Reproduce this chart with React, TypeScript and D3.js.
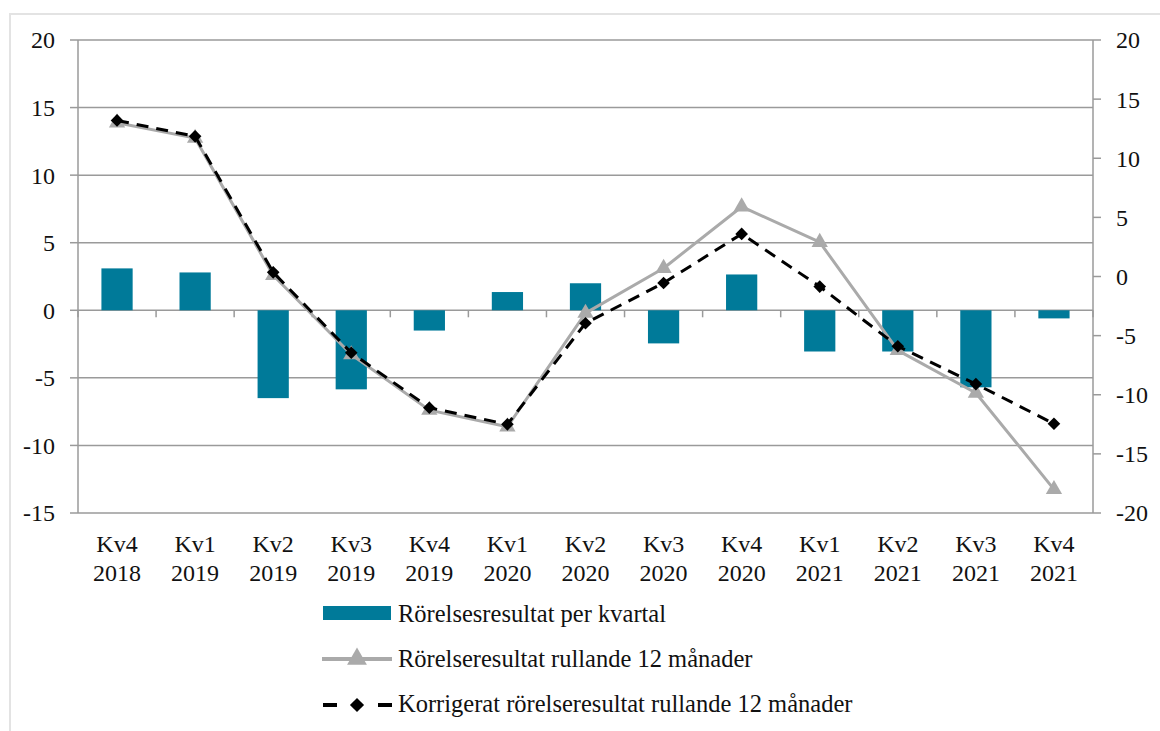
import { scaleBand, scaleLinear, line, symbol, symbolTriangle, symbolSquare } from 'd3';

// Quarterly operating result (left axis) and rolling 12-month lines (right axis).

const quarters = ['Kv4', 'Kv1', 'Kv2', 'Kv3', 'Kv4', 'Kv1', 'Kv2', 'Kv3', 'Kv4', 'Kv1', 'Kv2', 'Kv3', 'Kv4'];
const years = ['2018', '2019', '2019', '2019', '2019', '2020', '2020', '2020', '2020', '2021', '2021', '2021', '2021'];

const perQuarter = [3.1, 2.8, -6.5, -5.85, -1.5, 1.35, 2.0, -2.45, 2.65, -3.05, -3.05, -5.7, -0.6];
const rolling12 = [13.0, 11.7, 0.1, -6.6, -11.3, -12.7, -3.1, 0.7, 5.9, 2.9, -6.25, -9.85, -18.0];
const corrected12 = [13.2, 11.85, 0.35, -6.45, -11.1, -12.5, -3.95, -0.55, 3.6, -0.85, -5.9, -9.1, -12.45];

const leftTicks = [20, 15, 10, 5, 0, -5, -10, -15];
const rightTicks = [20, 15, 10, 5, 0, -5, -10, -15, -20];

const legendLabels = [
  'Rörelsesresultat per kvartal',
  'Rörelseresultat rullande 12 månader',
  'Korrigerat rörelseresultat rullande 12 månader',
];

const TEAL = '#007a99';
const GRAY = '#aaaaaa';
const GRID = '#9a9a9a';
const FONT = "'Liberation Serif', Tinos, 'Noto Serif', FreeSerif, Georgia, 'DejaVu Serif', serif";

export default function App() {
  const W = 1160;
  const H = 731;
  const m = { left: 78, right: 1093, top: 40, bottom: 513 };

  const x = scaleBand<number>()
    .domain(quarters.map((_q, i) => i))
    .range([m.left, m.right])
    .paddingInner(0.6)
    .paddingOuter(0.3);
  const band = (m.right - m.left) / quarters.length;
  const cx = (i: number) => m.left + band * (i + 0.5);

  const yL = scaleLinear().domain([-15, 20]).range([m.bottom, m.top]);
  const yR = scaleLinear().domain([-20, 20]).range([m.bottom, m.top]);

  const ln = line<number>()
    .x((_d, i) => cx(i))
    .y((d) => yR(d));

  const tri = symbol().type(symbolTriangle).size(115)() ?? undefined;
  const dia = symbol().type(symbolSquare).size(80)() ?? undefined;
  const legTri = symbol().type(symbolTriangle).size(170)() ?? undefined;
  const legDia = symbol().type(symbolSquare).size(100)() ?? undefined;

  return (
    <svg
      width={W}
      height={H}
      viewBox={`0 0 ${W} ${H}`}
      style={{ position: 'absolute', left: 0, top: 0, background: '#fff', fontFamily: FONT }}
    >
      <rect x={10} y={14} width={W + 10} height={H + 10} fill="#fff" stroke="#e3e3e3" strokeWidth={2} />

      {/* gridlines on left axis */}
      {leftTicks.map((t) => (
        <line key={t} x1={m.left} x2={m.right} y1={yL(t)} y2={yL(t)} stroke={GRID} strokeWidth={1.5} />
      ))}

      {/* axes */}
      <line x1={m.left} x2={m.left} y1={m.top} y2={m.bottom} stroke={GRID} strokeWidth={1.5} />
      <line x1={m.right} x2={m.right} y1={m.top} y2={m.bottom} stroke={GRID} strokeWidth={1.5} />
      {leftTicks.map((t) => (
        <g key={t}>
          <line x1={m.left - 8} x2={m.left} y1={yL(t)} y2={yL(t)} stroke={GRID} strokeWidth={1.5} />
          <text x={55} y={yL(t)} dy="0.35em" textAnchor="end" fontSize={24} fill="#111">
            {t}
          </text>
        </g>
      ))}
      {rightTicks.map((t) => (
        <g key={t}>
          <line x1={m.right} x2={m.right + 8} y1={yR(t)} y2={yR(t)} stroke={GRID} strokeWidth={1.5} />
          <text x={1116} y={yR(t)} dy="0.35em" textAnchor="start" fontSize={24} fill="#111">
            {t}
          </text>
        </g>
      ))}
      {quarters.map((_q, i) => (
        <line key={i} x1={m.left + band * i} x2={m.left + band * i} y1={yL(0)} y2={yL(0) + 7} stroke={GRID} strokeWidth={1.5} />
      ))}
      <line x1={m.right} x2={m.right} y1={yL(0)} y2={yL(0) + 7} stroke={GRID} strokeWidth={1.5} />

      {/* bars */}
      {perQuarter.map((v, i) => (
        <rect
          key={i}
          x={cx(i) - x.bandwidth() / 2}
          width={x.bandwidth()}
          y={Math.min(yL(v), yL(0))}
          height={Math.abs(yL(v) - yL(0))}
          fill={TEAL}
        />
      ))}

      {/* rolling 12 months */}
      <path d={ln(rolling12) ?? undefined} fill="none" stroke={GRAY} strokeWidth={3} strokeLinejoin="round" />
      {rolling12.map((v, i) => (
        <path key={i} d={tri} transform={`translate(${cx(i)},${yR(v)})`} fill={GRAY} />
      ))}

      {/* corrected rolling 12 months */}
      <path d={ln(corrected12) ?? undefined} fill="none" stroke="#000" strokeWidth={3} strokeDasharray="12 8" />
      {corrected12.map((v, i) => (
        <path key={i} d={dia} transform={`translate(${cx(i)},${yR(v)}) rotate(45)`} fill="#000" />
      ))}

      {/* x labels */}
      {quarters.map((q, i) => (
        <text key={i} x={cx(i)} textAnchor="middle" fontSize={24} fill="#111">
          <tspan x={cx(i)} y={552}>{q}</tspan>
          <tspan x={cx(i)} y={581}>{years[i]}</tspan>
        </text>
      ))}

      {/* legend */}
      <g fontSize={24.5} fill="#111">
        <rect x={323} y={606} width={68} height={14} fill={TEAL} />
        <text x={398} y={622}>{legendLabels[0]}</text>

        <line x1={322} x2={392} y1={659} y2={659} stroke={GRAY} strokeWidth={4} />
        <path d={legTri} transform="translate(357,659)" fill={GRAY} />
        <text x={398} y={667}>{legendLabels[1]}</text>

        <line x1={323} x2={337} y1={705} y2={705} stroke="#000" strokeWidth={4} />
        <path d={legDia} transform="translate(357,705) rotate(45)" fill="#000" />
        <line x1={378} x2={392} y1={705} y2={705} stroke="#000" strokeWidth={4} />
        <text x={398} y={712}>{legendLabels[2]}</text>
      </g>
    </svg>
  );
}
